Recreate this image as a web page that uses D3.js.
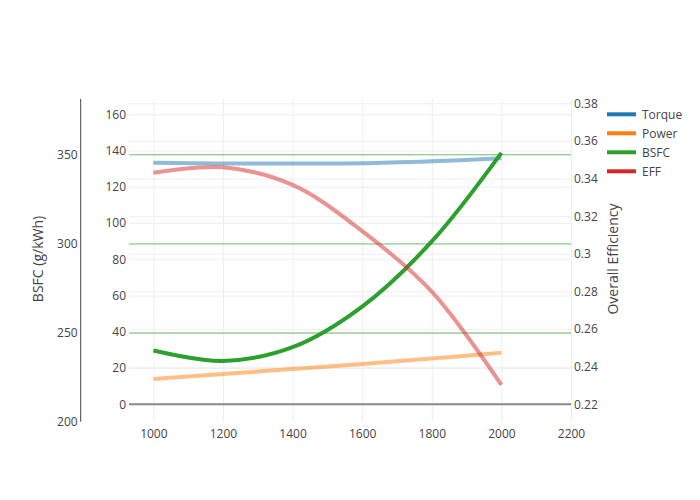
<!DOCTYPE html>
<html>
<head>
<meta charset="utf-8">
<script src="https://cdn.jsdelivr.net/npm/d3@7"></script>
<style>
  html, body { margin: 0; padding: 0; background: #fff; }
  svg { display: block; font-family: "Open Sans", "Noto Sans", sans-serif; }
</style>
</head>
<body>
<svg id="chart" width="700" height="500"></svg>
<script>
// ---- data ----
const rpm = [1000, 1200, 1400, 1600, 1800, 2000];
const torque = [133.3, 132.9, 132.9, 133.0, 134.1, 135.7];
const power = [13.96, 16.70, 19.48, 22.28, 25.28, 28.42];
const bsfc = [239.9, 234.1, 241.8, 264.6, 301.1, 350.8];
const eff = [0.3431, 0.3460, 0.3366, 0.3121, 0.2799, 0.2303];

const xTicks = [1000, 1200, 1400, 1600, 1800, 2000, 2200];
const leftTicks = [0, 20, 40, 60, 80, 100, 120, 140, 160];
const bsfcTicks = [200, 250, 300, 350];
const effTicks = [0.22, 0.24, 0.26, 0.28, 0.30, 0.32, 0.34, 0.36, 0.38];
const seriesNames = ["Torque", "Power", "BSFC", "EFF"];
const seriesColors = ["#1f77b4", "#ff7f0e", "#2ca02c", "#d62728"];

// ---- layout ----
const plotL = 129, plotR = 571, plotT = 99, plotB = 421.7;
const textColor = "#444";

const x = d3.scaleLinear().domain([930, 2200]).range([plotL, plotR]);
const yLeft = d3.scaleLinear().domain([0, 160]).range([404.3, 114.3]);
const yEff = d3.scaleLinear().domain([0.22, 0.38]).range([404.3, 103.3]);
const yBsfc = d3.scaleLinear().domain([200, 350]).range([421.7, 154.3]);

const svg = d3.select("#chart");

// vertical grid (x)
const gx = svg.append("g")
  .attr("transform", `translate(0,${plotB})`)
  .call(d3.axisBottom(x).tickValues(xTicks).tickSize(-(plotB - plotT)).tickFormat(""));
gx.select(".domain").remove();
gx.selectAll("line").attr("stroke", "#eee").attr("stroke-width", 1);

// horizontal grids: left and right axes
const gl = svg.append("g")
  .attr("transform", `translate(${plotL},0)`)
  .call(d3.axisLeft(yLeft).tickValues(leftTicks.filter(d => d !== 0)).tickSize(-(plotR - plotL)).tickFormat(""));
gl.select(".domain").remove();
gl.selectAll("line").attr("stroke", "#eee").attr("stroke-width", 1);

const gr = svg.append("g")
  .attr("transform", `translate(${plotR},0)`)
  .call(d3.axisRight(yEff).tickValues(effTicks.filter(d => d !== 0.22)).tickSize(-(plotR - plotL)).tickFormat(""));
gr.select(".domain").remove();
gr.selectAll("line").attr("stroke", "#eee").attr("stroke-width", 1);

// BSFC grid (green)
const gb = svg.append("g")
  .attr("transform", `translate(${plotL},0)`)
  .call(d3.axisLeft(yBsfc).tickValues(bsfcTicks.filter(d => d !== 200)).tickSize(-(plotR - plotL)).tickFormat(""));
gb.select(".domain").remove();
gb.selectAll("line").attr("stroke", "#6bbc6b").attr("stroke-width", 1);

// zero line
svg.append("line")
  .attr("x1", plotL).attr("x2", plotR)
  .attr("y1", yLeft(0)).attr("y2", yLeft(0))
  .attr("stroke", "#888").attr("stroke-width", 2);

// ---- series ----
const line = (yScale, vals) => d3.line()
  .x((d, i) => x(rpm[i]))
  .y(d => yScale(d))
  .curve(d3.curveCatmullRom.alpha(0.5))(vals);

const series = [
  { vals: torque, scale: yLeft, opacity: 0.5 },
  { vals: power, scale: yLeft, opacity: 0.5 },
  { vals: bsfc, scale: yBsfc, opacity: 1 },
  { vals: eff, scale: yEff, opacity: 0.5 }
];
series.forEach((s, i) => {
  svg.append("path")
    .attr("d", line(s.scale, s.vals))
    .attr("fill", "none")
    .attr("stroke", seriesColors[i])
    .attr("stroke-opacity", s.opacity)
    .attr("stroke-width", 4)
    .attr("stroke-linejoin", "round");
});

// ---- axes labels ----
const fontStyle = sel => sel.attr("fill", textColor).attr("font-size", 12).style("font-family", "'Open Sans', sans-serif");

const ax = svg.append("g")
  .attr("transform", `translate(0,${plotB})`)
  .call(d3.axisBottom(x).tickValues(xTicks).tickSize(0).tickPadding(8).tickFormat(d3.format("d")));
ax.select(".domain").remove();
ax.selectAll("text").call(fontStyle);

const al = svg.append("g")
  .attr("transform", `translate(${plotL},0)`)
  .call(d3.axisLeft(yLeft).tickValues(leftTicks).tickSize(0).tickPadding(3).tickFormat(d3.format("d")));
al.select(".domain").remove();
al.selectAll("text").call(fontStyle);

const ar = svg.append("g")
  .attr("transform", `translate(${plotR},0)`)
  .call(d3.axisRight(yEff).tickValues(effTicks).tickSize(0).tickPadding(3).tickFormat(d => d3.format(".2f")(d).replace(/0$/, "")));
ar.select(".domain").remove();
ar.selectAll("text").call(fontStyle);

const ab = svg.append("g")
  .attr("transform", `translate(80.7,0)`)
  .call(d3.axisLeft(yBsfc).tickValues(bsfcTicks).tickSize(0).tickPadding(3).tickFormat(d3.format("d")));
ab.select(".domain").remove();
ab.selectAll("text").call(fontStyle);
svg.append("line")
  .attr("x1", 80.7).attr("x2", 80.7).attr("y1", plotT).attr("y2", plotB)
  .attr("stroke", textColor).attr("stroke-width", 1);

// axis titles
svg.append("text")
  .attr("transform", "translate(43,259) rotate(-90)")
  .attr("text-anchor", "middle")
  .attr("fill", textColor).attr("font-size", 14)
  .text("BSFC (g/kWh)");
svg.append("text")
  .attr("transform", "translate(618,259) rotate(-90)")
  .attr("text-anchor", "middle")
  .attr("fill", textColor).attr("font-size", 14)
  .text("Overall Efficiency");

// legend
const leg = svg.append("g");
seriesNames.forEach((name, i) => {
  const yy = 114.3 + i * 19;
  leg.append("line")
    .attr("x1", 607).attr("x2", 636).attr("y1", yy).attr("y2", yy)
    .attr("stroke", seriesColors[i]).attr("stroke-width", 4);
  leg.append("text")
    .attr("x", 642).attr("y", yy).attr("dy", "0.35em")
    .attr("fill", textColor).attr("font-size", 12)
    .text(name);
});
</script>
</body>
</html>
